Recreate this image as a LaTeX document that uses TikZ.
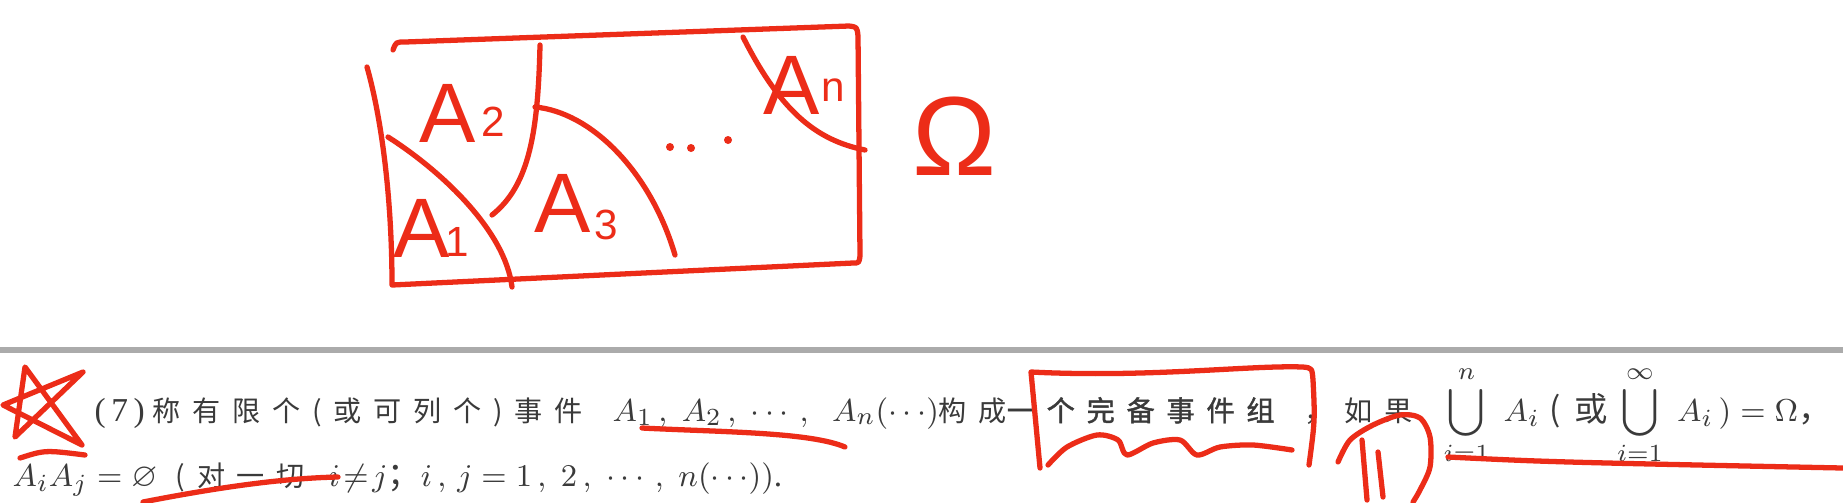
\documentclass[tikz,border=0pt]{standalone}
\usepackage{amssymb}
\usepackage{fontspec}
\setmainfont{Liberation Serif}
\newfontfamily\hand{Liberation Sans}
\newfontfamily\cjk[LetterSpace=42]{Noto Sans CJK SC}
\newfontfamily\cjkbold[LetterSpace=42,FakeBold=1.5]{Noto Sans CJK SC}
\usepackage{xcolor}
\definecolor{inkred}{HTML}{EC2C18}
\definecolor{printgray}{HTML}{3A3A3A}
\definecolor{rulegray}{HTML}{ABABAB}
\tikzset{
  ink/.style={draw=inkred, line width=1.5pt, line cap=round, line join=round},
  handlabel/.style={text=inkred, font=\hand\fontsize{24}{24}\selectfont, inner sep=0pt},
  handsub/.style={text=inkred, font=\hand\fontsize{12}{12}\selectfont, inner sep=0pt},
  printline/.style={text=printgray, font=\fontsize{8}{10}\selectfont, inner sep=0pt, anchor=base west},
  printmath/.style={printline, font=\fontsize{9.5}{11}\selectfont},
  rulebar/.style={draw=rulegray, line width=1.45pt}
}

\begin{document}
\begin{tikzpicture}[x=0.01cm, y=-0.01cm]
  \fill[white] (0,0) rectangle (1843,502);
  \useasboundingbox (0,0) rectangle (1843,502);

  % sample space sketch
  \draw[ink] (367,67) .. controls (382,120) and (392,200) .. (392,285) -- (853,263)
    .. controls (859,263) .. (860,256) -- (858,36) .. controls (857,27) .. (849,26)
    -- (405,42) .. controls (396,42) .. (393,50);
  \draw[ink] (388,137) .. controls (440,170) and (505,230) .. (512,287);
  \draw[ink] (540,45) .. controls (538,130) and (530,185) .. (492,215);
  \draw[ink] (535,107) .. controls (590,112) and (650,170) .. (675,255);
  \draw[ink] (743,37) .. controls (780,110) and (815,140) .. (865,150);
  \foreach \px/\py in {670/147, 691/148, 728/140}
    \fill[inkred] (\px,\py) circle (4);

  \node[handlabel] (aone) at (422,228) {A};
  \node[handsub] (aonesub) at (457,242) {1};
  \node[handlabel] (atwo) at (448,113) {A};
  \node[handsub] (atwosub) at (493,122) {2};
  \node[handlabel] (athree) at (563,203) {A};
  \node[handsub] (athreesub) at (606,225) {3};
  \node[handlabel] (aen) at (792,85) {A};
  \node[handsub] (aensub) at (833,90) {n};
  \node[text=inkred, font=\hand\fontsize{32}{32}\selectfont, inner sep=0pt] (omega) at (955,136) {Ω};

  % page of the book
  \draw[rulebar] (0,350) -- (1843,350);
  \node[printmath] (num) at (94,421) {(\,7\,)};
  \node[printline] (defa) at (152,421) {\cjk 称有限个(或可列个)事件};
  \node[printmath] (defb) at (612,421) {$A_1\,,\;A_2\,,\;\cdots\,,\;\;A_n(\cdots)$};
  \node[printline] (defc) at (938,421) {\cjk 构成{\cjkbold 一个完备事件组}};
  \node[printline] (defcc) at (1304,421) {\cjk ，如果};
  \node[printmath] (defd) at (1443,421) {$\displaystyle\bigcup_{i=1}^{n}\; A_i$\;{\cjk(或}\;$\displaystyle\bigcup_{i=1}^{\infty}\; A_i\,)=\Omega${\cjk ，}};
  \node[printmath] (defe) at (12,486) {$A_iA_j=\varnothing$};
  \node[printline] (deff) at (175,486) {\cjk(对一切};
  \node[printmath] (defg) at (328,486) {$i\!\neq\! j${\cjk ；}$i\,,\,j=1\,,\;2\,,\;\cdots\,,\;n(\cdots))$.};

  % marks over the page
  \draw[ink] (25,367) -- (82,445) -- (3,405) -- (83,372) -- (15,437) -- cycle;
  \draw[ink] (20,458) .. controls (45,450) .. (85,455);
  \draw[ink] (143,502) .. controls (230,485) and (290,478) .. (338,477);
  \draw[ink] (642,428) .. controls (720,432) and (810,432) .. (845,447);
  \draw[ink] (1040,468) .. controls (1036,420) .. (1031,372)
    .. controls (1150,378) and (1250,365) .. (1303,367)
    .. controls (1312,368) .. (1313,380) .. controls (1315,420) .. (1309,465);
  \draw[ink] plot[smooth] coordinates {(1048,465) (1067,447) (1097,435) (1118,440) (1127,455)
    (1153,443) (1180,440) (1197,455) (1220,447) (1253,445) (1292,450)};
  \draw[ink] plot[smooth] coordinates {(1338,462) (1350,440) (1373,425) (1400,415) (1420,418)
    (1430,437) (1430,467) (1420,490) (1413,502)};
  \draw[ink] (1362,440) -- (1367,500);
  \draw[ink] (1378,452) -- (1383,497);
  \draw[ink] (1448,457) .. controls (1550,462) .. (1843,468);
\end{tikzpicture}
\end{document}
